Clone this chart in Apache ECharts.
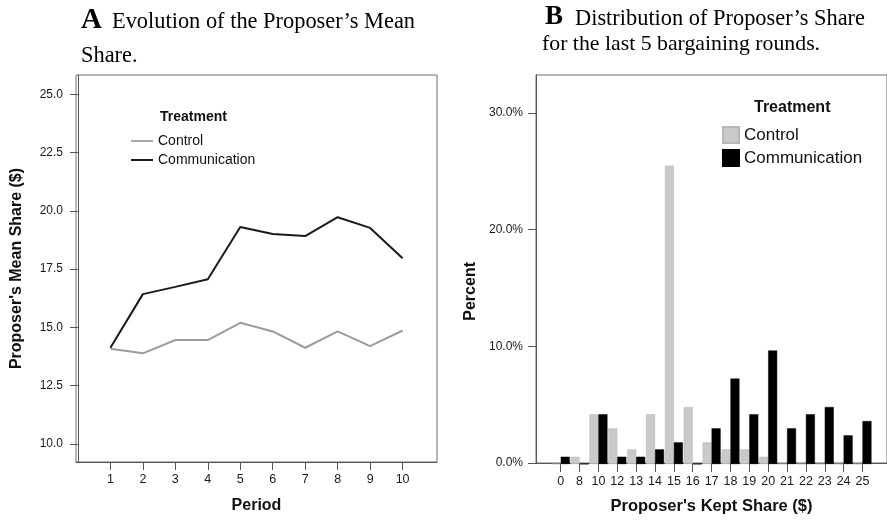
<!DOCTYPE html>
<html>
<head>
<meta charset="utf-8">
<script src="https://cdn.jsdelivr.net/npm/echarts@6/dist/echarts.min.js"></script>
<style>
html,body{margin:0;padding:0;background:#fff;}
#chart{width:887px;height:520px;}
</style>
</head>
<body>
<div id="chart"></div>
<script>
// ---- Data ----
const periods = [1, 2, 3, 4, 5, 6, 7, 8, 9, 10];
const controlMean = [14.09, 13.89, 14.46, 14.46, 15.20, 14.83, 14.13, 14.83, 14.20, 14.87];
const commMean = [14.13, 16.43, 16.74, 17.07, 19.31, 19.01, 18.92, 19.73, 19.27, 17.97];
const meanTicks = [10, 12.5, 15, 17.5, 20, 22.5, 25];

const keptShares = ['0', '8', '10', '12', '13', '14', '15', '16', '17', '18', '19', '20', '21', '22', '23', '24', '25'];
const controlPct = [0, 0.62, 4.25, 3.05, 1.25, 4.25, 25.5, 4.87, 1.85, 1.25, 1.25, 0.62, 0, 0, 0, 0, 0];
const commPct = [0.62, 0, 4.25, 0.62, 0.62, 1.25, 1.85, 0, 3.05, 7.3, 4.25, 9.7, 3.05, 4.25, 4.87, 2.45, 3.67];
const pctTicks = [0, 10, 20, 30];

const seriesNames = ['Control', 'Communication'];

// ---- Chart ----
const chart = echarts.init(document.getElementById('chart'), null, {renderer: 'canvas'});
const axisCol = '#555';
const frameCol = '#6e6e6e';
const labelCol = '#1a1a1a';
const sans = 'Liberation Sans, Arial, sans-serif';
const serif = 'Liberation Serif, Times New Roman, serif';

const option = {
  backgroundColor: '#fff',
  animation: false,
  title: [
    {text: 'A', left: 81, top: 6, padding: 0, textStyle: {fontFamily: serif, fontWeight: 'bold', fontSize: 29, lineHeight: 29, color: '#000'}},
    {text: 'Evolution of the Proposer\u2019s Mean', left: 112, top: 11, padding: 0, textStyle: {fontFamily: serif, fontWeight: 'normal', fontSize: 22.4, lineHeight: 22, color: '#000'}},
    {text: 'Share.', left: 81, top: 45, padding: 0, textStyle: {fontFamily: serif, fontWeight: 'normal', fontSize: 22.4, lineHeight: 22, color: '#000'}},
    {text: 'B', left: 545, top: 4, padding: 0, textStyle: {fontFamily: serif, fontWeight: 'bold', fontSize: 27, lineHeight: 27, color: '#000'}},
    {text: 'Distribution of Proposer\u2019s Share', left: 575, top: 8, padding: 0, textStyle: {fontFamily: serif, fontWeight: 'normal', fontSize: 22.4, lineHeight: 22, color: '#000'}},
    {text: 'for the last 5 bargaining rounds.', left: 542, top: 33, padding: 0, textStyle: {fontFamily: serif, fontWeight: 'normal', fontSize: 21.8, lineHeight: 22, color: '#000'}},
    {text: 'Treatment', left: 160, top: 110, padding: 0, textStyle: {fontFamily: sans, fontWeight: 'bold', fontSize: 14, lineHeight: 14, color: '#111'}},
    {text: 'Treatment', left: 754, top: 100, padding: 0, textStyle: {fontFamily: sans, fontWeight: 'bold', fontSize: 16, lineHeight: 16, color: '#111'}}
  ],
  legend: [
    {
      left: 131, top: 134, orient: 'vertical', padding: 0,
      itemWidth: 22, itemHeight: 2, itemGap: 5, itemTextGap: 4,
      icon: 'rect',
      data: [{name: seriesNames[0], itemStyle: {color: '#a6a6a6'}}, {name: seriesNames[1], itemStyle: {color: '#1a1a1a'}}],
      textStyle: {fontFamily: sans, fontSize: 14, color: '#111'},
      selectedMode: false
    },
    {
      left: 722, top: 126, orient: 'vertical', padding: 0,
      itemWidth: 16, itemHeight: 16, itemGap: 5, itemTextGap: 3,
      icon: 'rect',
      data: ['Control ', 'Communication '],
      textStyle: {fontFamily: sans, fontSize: 17, color: '#111'},
      selectedMode: false
    }
  ],
  grid: [
    {left: 76, top: 75, right: 450, bottom: 58, show: true, borderColor: frameCol, borderWidth: 1, backgroundColor: 'transparent'},
    {left: 536, top: 75, right: -5, bottom: 56, show: true, borderColor: frameCol, borderWidth: 1, backgroundColor: 'transparent'},
    {left: 551.3, top: 75, right: 15.1, bottom: 56, show: false}
  ],
  xAxis: [
    {
      gridIndex: 0, type: 'value', min: -0.06, max: 11.06,
      name: 'Period', nameLocation: 'middle', nameGap: 36,
      nameTextStyle: {fontFamily: sans, fontWeight: 'bold', fontSize: 16, color: '#111'},
      axisLine: {show: true, lineStyle: {color: axisCol, width: 1}},
      axisTick: {show: true, length: 8, customValues: periods, lineStyle: {color: axisCol}},
      axisLabel: {show: true, customValues: periods, margin: 11, fontFamily: sans, fontSize: 12.5, color: labelCol},
      splitLine: {show: false}
    },
    {
      gridIndex: 1, type: 'value', min: 0, max: 1,
      name: 'Proposer\'s Kept Share ($)', nameLocation: 'middle', nameGap: 35,
      nameTextStyle: {fontFamily: sans, fontWeight: 'bold', fontSize: 16.5, color: '#111'},
      axisLine: {show: true, lineStyle: {color: axisCol, width: 1}},
      axisTick: {show: false}, axisLabel: {show: false}, splitLine: {show: false}
    },
    {
      gridIndex: 2, type: 'category', data: keptShares,
      axisLine: {show: false},
      axisTick: {show: true, alignWithLabel: true, length: 8, lineStyle: {color: axisCol}},
      axisLabel: {show: true, interval: 0, margin: 11, fontFamily: sans, fontSize: 12.5, color: labelCol},
      splitLine: {show: false}
    }
  ],
  yAxis: [
    {
      gridIndex: 0, type: 'value', min: 9.228, max: 25.83,
      name: 'Proposer\'s Mean Share ($)', nameLocation: 'middle', nameGap: 51, nameRotate: 90,
      nameTextStyle: {fontFamily: sans, fontWeight: 'bold', fontSize: 16, color: '#111'},
      axisLine: {show: true, lineStyle: {color: axisCol, width: 1}},
      axisTick: {show: true, length: 8, customValues: meanTicks, lineStyle: {color: axisCol}},
      axisLabel: {show: true, customValues: meanTicks, margin: 13, fontFamily: sans, fontSize: 12, color: labelCol,
        formatter: v => v.toFixed(1)},
      splitLine: {show: false}
    },
    {
      gridIndex: 1, type: 'value', min: 0, max: 33.25,
      axisLine: {show: true, lineStyle: {color: axisCol, width: 1}},
      axisTick: {show: true, length: 8, customValues: pctTicks, lineStyle: {color: axisCol}},
      axisLabel: {show: true, customValues: pctTicks, margin: 13, fontFamily: sans, fontSize: 12, color: labelCol,
        formatter: v => v.toFixed(1) + '%'},
      splitLine: {show: false}
    },
    {
      gridIndex: 2, type: 'value', min: 0, max: 33.25, show: false
    }
  ],
  graphic: [
    {type: 'text', left: 463, top: 262, rotation: Math.PI / 2,
      style: {text: 'Percent', font: 'bold 16px ' + sans, fill: '#111'}}
  ],
  series: [
    {
      name: seriesNames[0], type: 'line', xAxisIndex: 0, yAxisIndex: 0,
      data: periods.map((p, i) => [p, controlMean[i]]),
      showSymbol: false, symbol: 'none', color: '#a6a6a6',
      lineStyle: {color: '#9c9c9c', width: 2}, z: 3
    },
    {
      name: seriesNames[1], type: 'line', xAxisIndex: 0, yAxisIndex: 0,
      data: periods.map((p, i) => [p, commMean[i]]),
      showSymbol: false, symbol: 'none', color: '#1a1a1a',
      lineStyle: {color: '#1a1a1a', width: 2}, z: 4
    },
    {
      name: 'Control ', type: 'bar', xAxisIndex: 2, yAxisIndex: 2,
      data: controlPct, barWidth: 9, barGap: '0%',
      itemStyle: {color: '#c9c9c9', borderColor: '#b8b8b8', borderWidth: 0.5}
    },
    {
      name: 'Communication ', type: 'bar', xAxisIndex: 2, yAxisIndex: 2,
      data: commPct, barWidth: 9, barGap: '0%',
      itemStyle: {color: '#000', borderColor: '#000', borderWidth: 0.5}
    }
  ]
};
chart.setOption(option);
</script>
</body>
</html>
